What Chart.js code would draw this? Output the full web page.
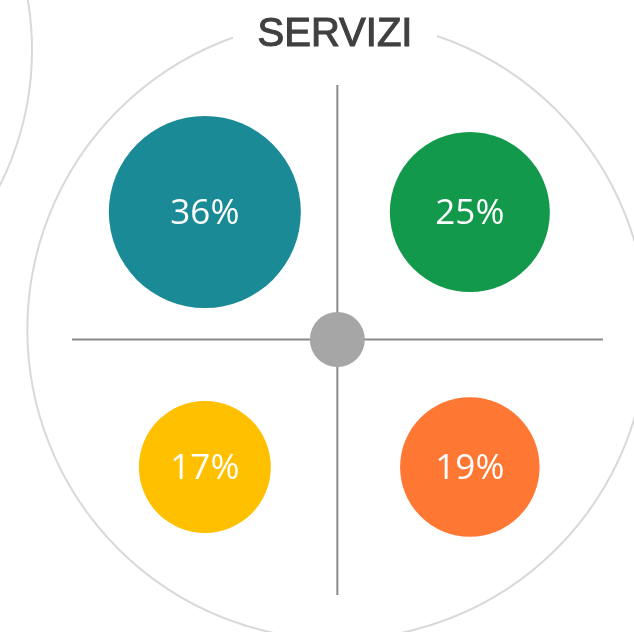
<!DOCTYPE html>
<html lang="it">
<head>
    <meta charset="UTF-8">
    <title>Servizi</title>
    <style>
        body { margin: 0; background: #ffffff; }
        .grafico { width: 634px; height: 632px; position: relative; }
    </style>
</head>
<body>
<div class="grafico">
    <canvas id="grafico-servizi"></canvas>
</div>

<script src="https://cdn.jsdelivr.net/npm/chart.js"></script>
<script>
    // dati del grafico
    const titolo = 'SERVIZI';
    const percentuali = [36, 25, 17, 19];
    const posX = [-1, 1, -1, 1];   // quadrante orizzontale
    const posY = [1, 1, -1, -1];   // quadrante verticale
    const colori = ['#1a8a96', '#12994b', '#ffc000', '#fe7733'];

    const bolle = percentuali.map((v, i) => ({ x: posX[i], y: posY[i], r: 16 * Math.sqrt(v) }));

    // cerchi di sfondo, croce, titolo
    const sfondo = {
        id: 'sfondo',
        beforeDatasetsDraw(chart) {
            const ctx = chart.ctx;
            const sx = chart.scales.x, sy = chart.scales.y;
            const cx = sx.getPixelForValue(0), cy = sy.getPixelForValue(0);
            ctx.save();
            ctx.strokeStyle = '#d9d9d9';
            ctx.lineWidth = 2;
            ctx.beginPath();
            ctx.arc(cx, cy - 10, 310, 0, Math.PI * 2);
            ctx.stroke();
            ctx.beginPath();
            ctx.arc(-269, 50, 301, 0, Math.PI * 2);
            ctx.stroke();

            ctx.strokeStyle = '#8a8a8a';
            ctx.lineWidth = 2;
            ctx.beginPath();
            ctx.moveTo(cx, 85); ctx.lineTo(cx, 595);
            ctx.moveTo(72, cy); ctx.lineTo(603, cy);
            ctx.stroke();

            // titolo con fondo bianco
            ctx.fillStyle = '#ffffff';
            ctx.fillRect(233, 0, 204, 60);
            ctx.fillStyle = '#404040';
            ctx.strokeStyle = '#404040';
            ctx.lineWidth = 1.1;
            ctx.font = '40px "Liberation Sans", Arial, sans-serif';
            ctx.textAlign = 'center';
            ctx.textBaseline = 'alphabetic';
            ctx.fillText(titolo, 335, 46);
            ctx.strokeText(titolo, 335, 46);
            ctx.restore();
        },
        afterDatasetsDraw(chart) {
            const ctx = chart.ctx;
            const meta = chart.getDatasetMeta(0);
            ctx.save();
            ctx.fillStyle = '#ffffff';
            ctx.font = '35px "Open Sans", sans-serif';
            ctx.textAlign = 'center';
            ctx.textBaseline = 'middle';
            meta.data.forEach((el, i) => {
                ctx.fillText(percentuali[i] + '%', el.x, el.y + 2);
            });
            ctx.restore();
        }
    };

    new Chart(document.getElementById('grafico-servizi'), {
        type: 'bubble',
        data: {
            datasets: [{
                data: bolle,
                backgroundColor: colori,
                borderWidth: 0,
                hoverBorderWidth: 0
            }, {
                data: [{ x: 0, y: 0, r: 27.5 }],
                backgroundColor: '#a6a6a6',
                borderWidth: 0
            }]
        },
        options: {
            responsive: true,
            maintainAspectRatio: false,
            animation: false,
            layout: { padding: 0, autoPadding: false },
            plugins: { legend: { display: false }, tooltip: { enabled: false } },
            scales: {
                x: { display: false, min: -2.546, max: 2.239 },
                y: { display: false, min: -2.294, max: 2.663 }
            }
        },
        plugins: [sfondo]
    });
</script>
</body>
</html>
